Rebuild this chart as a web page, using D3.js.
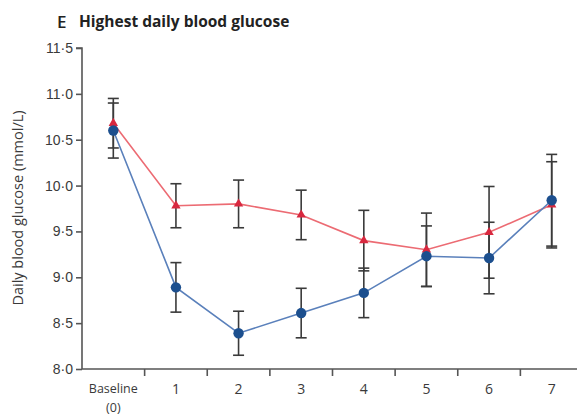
<!DOCTYPE html>
<html>
<head>
<meta charset="utf-8">
<script src="https://cdn.jsdelivr.net/npm/d3@7/dist/d3.min.js"></script>
<style>
  html, body { margin: 0; padding: 0; background: #fff; }
  svg { display: block; font-family: "Open Sans", "Noto Sans", sans-serif; }
</style>
</head>
<body>
<svg id="chart" width="577" height="415"></svg>
<script>
// Days of follow-up (0 = baseline)
const days = ["0", "1", "2", "3", "4", "5", "6", "7"];
const dayLabels = [["Baseline", "(0)"], ["1"], ["2"], ["3"], ["4"], ["5"], ["6"], ["7"]];

// Mean highest daily blood glucose (mmol/L) and error half-widths
const blueMean = [10.60, 8.89, 8.39, 8.61, 8.83, 9.23, 9.21, 9.84];
const blueErr  = [0.30, 0.27, 0.24, 0.27, 0.27, 0.33, 0.39, 0.50];
const redMean  = [10.68, 9.78, 9.80, 9.68, 9.40, 9.30, 9.49, 9.79];
const redErr   = [0.27, 0.24, 0.26, 0.27, 0.33, 0.40, 0.50, 0.47];

const yTicks = [8.0, 8.5, 9.0, 9.5, 10.0, 10.5, 11.0, 11.5];

const svg = d3.select("#chart");
const x = d3.scaleBand().domain(days).range([82, 583]).padding(0);
const y = d3.scaleLinear().domain([8, 11.5]).range([369, 48]);
const fmt = v => d3.format(".1f")(v).replace(".", "\u00B7");
const axisColor = "#555";
const textColor = "#3a3a3a";

// Title
svg.append("text").attr("x", 57).attr("y", 28)
  .attr("font-size", 17).attr("font-weight", 600).attr("fill", "#222").text("E");
svg.append("text").attr("x", 79).attr("y", 27)
  .attr("font-size", 15.5).attr("font-weight", "bold").attr("fill", "#222")
  .text("Highest daily blood glucose");

// Y axis
const yAxis = d3.axisLeft(y).tickValues(yTicks).tickFormat(fmt).tickSize(6).tickPadding(3);
const gy = svg.append("g").attr("transform", "translate(82,0)").call(yAxis);
gy.select(".domain").attr("stroke", axisColor).attr("stroke-width", 1.6).attr("d", "M-6,48H0V369");
gy.selectAll(".tick line").attr("stroke", axisColor).attr("stroke-width", 1.6);
gy.selectAll(".tick text").attr("font-size", 14).attr("fill", textColor);

svg.append("text")
  .attr("transform", "translate(23,208) rotate(-90)")
  .attr("text-anchor", "middle").attr("font-size", 14.5).attr("fill", textColor)
  .text("Daily blood glucose (mmol/L)");

// X axis with ticks at the boundaries between days
const gx = svg.append("g").attr("transform", "translate(0,369)");
gx.append("line").attr("x1", 82).attr("x2", 577).attr("y1", 0).attr("y2", 0)
  .attr("stroke", axisColor).attr("stroke-width", 1.6);
gx.selectAll("line.bt").data(days.slice(1)).join("line").attr("class", "bt")
  .attr("x1", d => x(d)).attr("x2", d => x(d)).attr("y1", 0).attr("y2", 7)
  .attr("stroke", axisColor).attr("stroke-width", 1.6);
const labels = gx.selectAll("text.dl").data(days).join("text").attr("class", "dl")
  .attr("text-anchor", "middle").attr("fill", textColor)
  .attr("x", d => x(d) + x.bandwidth() / 2).attr("y", 25);
labels.each(function (d, i) {
  const t = d3.select(this);
  const lines = dayLabels[i];
  lines.forEach((s, j) => {
    t.append("tspan").attr("x", x(d) + x.bandwidth() / 2).attr("dy", j === 0 ? (lines.length > 1 ? -1 : 0) : 19)
      .attr("font-size", lines.length > 1 ? 12.5 : 14).text(s);
  });
});

const cx = d => x(d) + x.bandwidth() / 2;

function series(mean, err, lineColor) {
  const pts = days.map((d, i) => ({ d, m: mean[i], e: err[i] }));
  svg.append("path").datum(pts)
    .attr("fill", "none").attr("stroke", lineColor).attr("stroke-width", 1.6)
    .attr("d", d3.line().x(p => cx(p.d)).y(p => y(p.m)));
  const eb = svg.append("g").attr("stroke", "#3a3a3a").attr("stroke-width", 1.6);
  eb.selectAll("line.v").data(pts).join("line")
    .attr("x1", p => cx(p.d)).attr("x2", p => cx(p.d))
    .attr("y1", p => y(p.m + p.e)).attr("y2", p => y(p.m - p.e));
  eb.selectAll("line.t").data(pts).join("line")
    .attr("x1", p => cx(p.d) - 5.5).attr("x2", p => cx(p.d) + 5.5)
    .attr("y1", p => y(p.m + p.e)).attr("y2", p => y(p.m + p.e));
  eb.selectAll("line.b").data(pts).join("line")
    .attr("x1", p => cx(p.d) - 5.5).attr("x2", p => cx(p.d) + 5.5)
    .attr("y1", p => y(p.m - p.e)).attr("y2", p => y(p.m - p.e));
  return pts;
}

const redPts = series(redMean, redErr, "#ec6b73");
const bluePts = series(blueMean, blueErr, "#5a80bb");

svg.append("g").selectAll("path").data(redPts).join("path")
  .attr("transform", p => `translate(${cx(p.d)},${y(p.m)})`)
  .attr("d", d3.symbol(d3.symbolTriangle, 38)).attr("fill", "#d8283f");
svg.append("g").selectAll("circle").data(bluePts).join("circle")
  .attr("cx", p => cx(p.d)).attr("cy", p => y(p.m)).attr("r", 5.2)
  .attr("fill", "#1c4f8e");
</script>
</body>
</html>
